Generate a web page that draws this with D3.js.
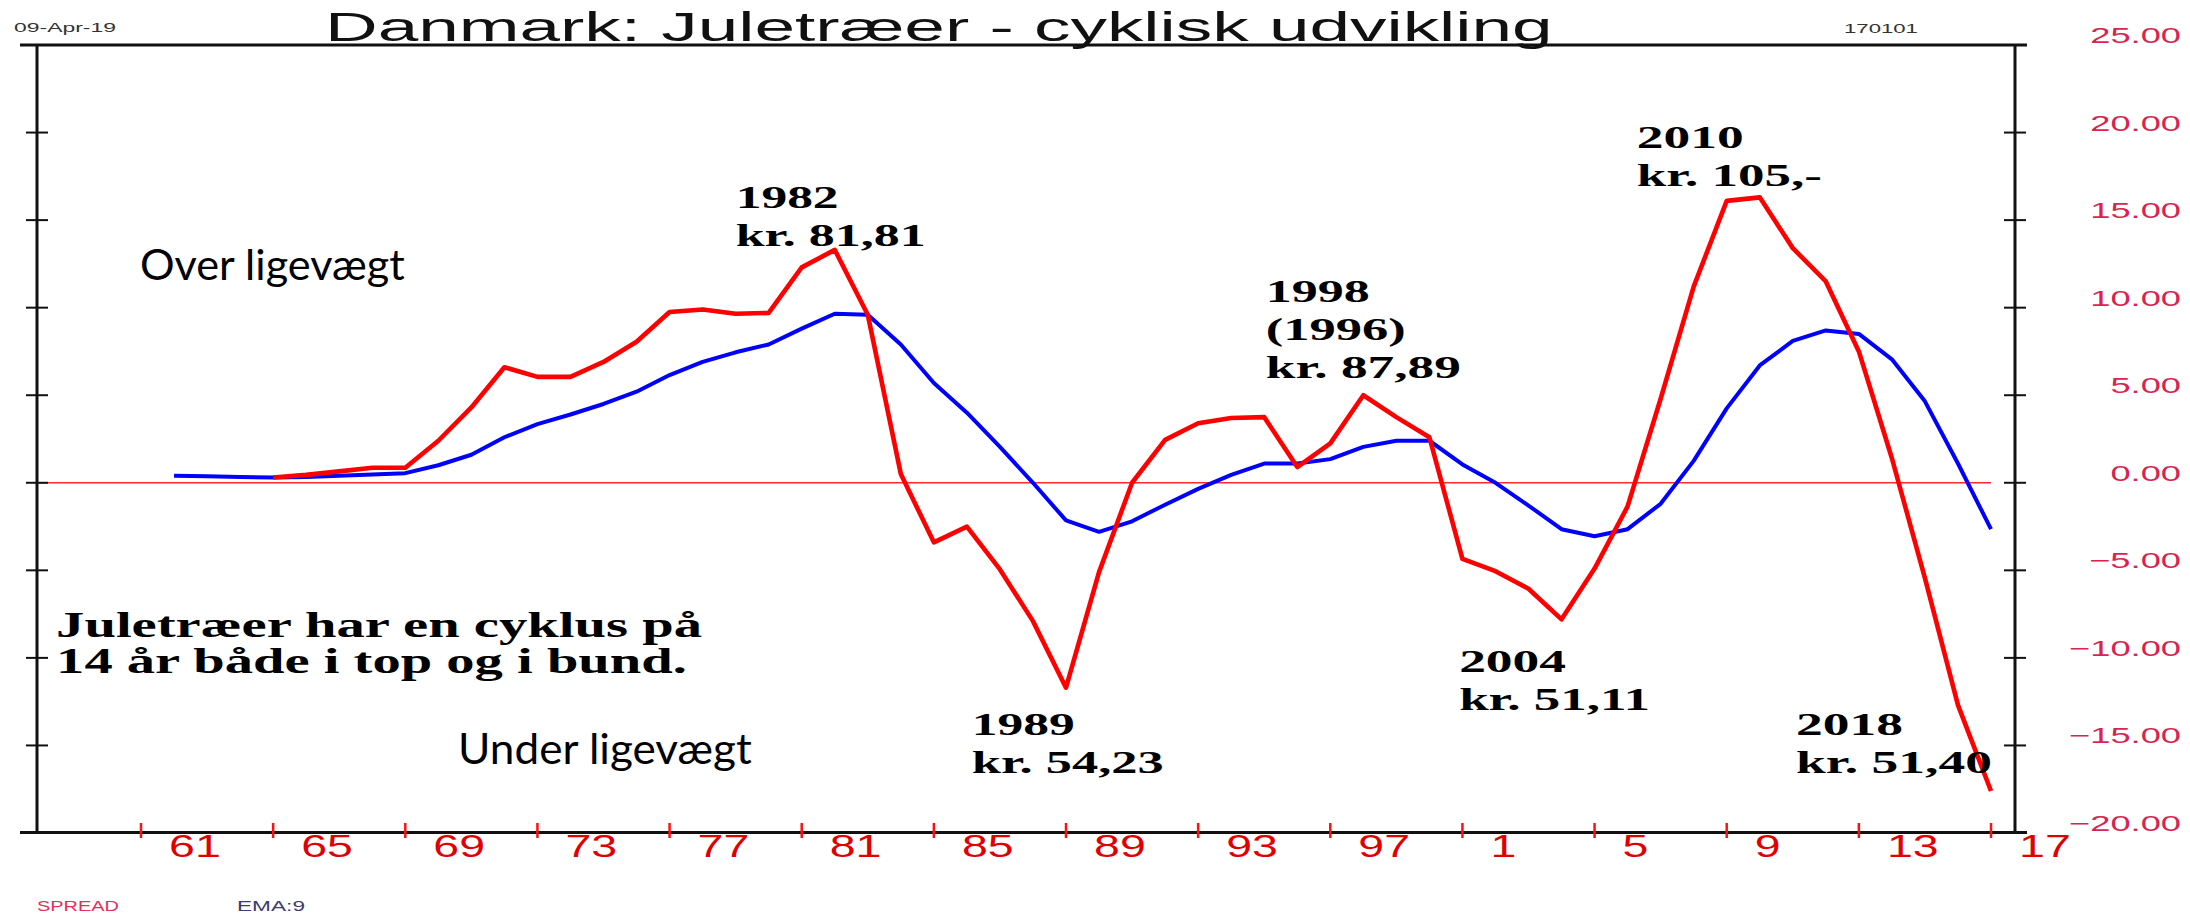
<!DOCTYPE html>
<html>
<head>
<meta charset="utf-8">
<script src="https://cdn.jsdelivr.net/npm/d3@7"></script>
<style>
html, body { margin: 0; padding: 0; background: #fff; overflow: hidden; }
.sans { font-family: "Liberation Sans", Arial, sans-serif; }
.serif { font-family: "Liberation Serif", "Times New Roman", serif; font-weight: bold; }
.calib { font-family: Lato, "Open Sans", sans-serif; }
</style>
</head>
<body>
<svg id="chart"></svg>
<script>
// SPREAD (red) series, one point per year
const spreadYears = d3.range(1964, 2017);
const spreadValues = [
    0.3, 0.45, 0.65, 0.86, 0.86, 2.4, 4.3, 6.6, 6.05, 6.05,
    6.9, 8.05, 9.75, 9.9, 9.65, 9.7, 12.3, 13.3, 9.6, 0.5,
    -3.4, -2.5, -4.95, -7.9, -11.7, -5.1, 0.0, 2.45, 3.4, 3.7,
    3.75, 0.9, 2.25, 5.0, 3.75, 2.6, -4.35, -5.05, -6.05, -7.8,
    -4.9, -1.35, 4.8, 11.2, 16.1, 16.3, 13.4, 11.5, 7.5, 1.4,
    -5.45, -12.7, -17.6
];

// EMA:9 (blue) series
const emaYears = d3.range(1961, 2017);
const emaValues = [
    0.4, 0.37, 0.33, 0.3, 0.33, 0.4, 0.47, 0.55, 1.0, 1.6,
    2.6, 3.35, 3.9, 4.5, 5.2, 6.15, 6.9, 7.45, 7.9, 8.8,
    9.65, 9.6, 7.9, 5.7, 4.0, 2.05, 0.0, -2.15, -2.8, -2.2,
    -1.25, -0.35, 0.45, 1.1, 1.1, 1.35, 2.05, 2.4, 2.4, 1.05,
    0.0, -1.3, -2.65, -3.05, -2.65, -1.2, 1.25, 4.25, 6.7, 8.1,
    8.7, 8.5, 7.05, 4.65, 1.1, -2.65
];

const xTickYears = d3.range(1960, 2017, 4);
const xLabelYears = d3.range(1961, 2018, 4);
const xLabels = ["61", "65", "69", "73", "77", "81", "85", "89", "93", "97", "1", "5", "9", "13", "17"];
const yTicks = [25, 20, 15, 10, 5, 0, -5, -10, -15, -20];

const title = "Danmark: Juletræer - cyklisk udvikling";
const dateLabel = "09-Apr-19";
const codeLabel = "170101";
const legendLabels = ["SPREAD", "EMA:9"];

// annotation texts with the year / value they sit at
const notes = [
    { lines: ["1982", "kr. 81,81"], year: 1978.0, value: 15.7, widths: [103, 190] },
    { lines: ["1998", "(1996)", "kr. 87,89"], year: 1994.05, value: 10.3, widths: [104, 140, 195] },
    { lines: ["1989", "kr. 54,23"], year: 1985.15, value: -14.4, widths: [103, 192] },
    { lines: ["2004", "kr. 51,11"], year: 1999.9, value: -10.8, widths: [107, 191] },
    { lines: ["2010", "kr. 105,-"], year: 2005.28, value: 19.1, widths: [107, 185] },
    { lines: ["2018", "kr. 51,40"], year: 2010.1, value: -14.4, widths: [107, 196] }
];
const cycleNote = ["Juletræer har en cyklus på", "14 år både i top og i bund."];
const overLabel = "Over ligevægt";
const underLabel = "Under ligevægt";

const width = 2190;
const height = 913;
const axisLeftX = 37;
const axisRightX = 2015;

const svg = d3.select("#chart").attr("width", width).attr("height", height);

const x = d3.scaleLinear().domain([1960, 2016]).range([141, 1991]);
const y = d3.scaleLinear().domain([-20, 25]).range([833, 45]);

function fitText(cls, str, px, py, w, size, fill) {
    const t = svg.append("text")
        .attr("class", cls)
        .style("font-size", size + "px")
        .attr("fill", fill || "#000")
        .text(str);
    const natural = t.node().getComputedTextLength();
    t.attr("transform", `translate(${px},${py}) scale(${w / natural},1)`);
    return t;
}

// zero line
svg.append("line")
    .attr("x1", axisLeftX).attr("x2", x(2016))
    .attr("y1", y(0)).attr("y2", y(0))
    .attr("stroke", "#ff2a2a").attr("stroke-width", 1.6);

// frame
const frame = svg.append("g").attr("stroke", "#111").attr("stroke-width", 3);
frame.append("line").attr("x1", 20).attr("x2", 2027).attr("y1", y(25)).attr("y2", y(25));
frame.append("line").attr("x1", 20).attr("x2", 2027).attr("y1", y(-20) - 0.5).attr("y2", y(-20) - 0.5);
frame.append("line").attr("x1", axisLeftX).attr("x2", axisLeftX).attr("y1", y(25)).attr("y2", y(-20));
frame.append("line").attr("x1", axisRightX).attr("x2", axisRightX).attr("y1", y(25)).attr("y2", y(-20));

// y ticks on both axes
const innerTicks = yTicks.filter(v => v < 25 && v > -20);
[axisLeftX, axisRightX].forEach(ax => {
    svg.append("g").selectAll("line")
        .data(innerTicks)
        .enter()
        .append("line")
        .attr("x1", ax - 11).attr("x2", ax + 11)
        .attr("y1", d => y(d)).attr("y2", d => y(d))
        .attr("stroke", "#111").attr("stroke-width", 2);
});

// right axis labels
const fmt = d3.format(".2f");
yTicks.forEach(v => {
    svg.append("text")
        .attr("class", "sans")
        .style("font-size", "22px")
        .attr("fill", "#d8244f")
        .attr("text-anchor", "end")
        .attr("transform", `translate(2181,${y(v) - 2}) scale(1.65,1)`)
        .text(fmt(v));
});

// x ticks
svg.append("g").selectAll("line")
    .data(xTickYears)
    .enter()
    .append("line")
    .attr("x1", d => x(d)).attr("x2", d => x(d))
    .attr("y1", 823).attr("y2", 838)
    .attr("stroke", "#ff1010").attr("stroke-width", 2.5);

// x labels
xLabels.forEach((lab, i) => {
    svg.append("text")
        .attr("class", "sans")
        .style("font-size", "31px")
        .attr("fill", "#e00000")
        .attr("transform", `translate(${x(xLabelYears[i]) - 5},857) scale(1.5,1)`)
        .text(lab);
});

// series
const line = d3.line().x(d => x(d[0])).y(d => y(d[1]));

svg.append("path")
    .datum(emaYears.map((yr, i) => [yr, emaValues[i]]))
    .attr("fill", "none")
    .attr("stroke", "#0000ff")
    .attr("stroke-width", 4)
    .attr("stroke-linejoin", "round")
    .attr("d", line);

svg.append("path")
    .datum(spreadYears.map((yr, i) => [yr, spreadValues[i]]))
    .attr("fill", "none")
    .attr("stroke", "#ff0000")
    .attr("stroke-width", 4.6)
    .attr("stroke-linejoin", "round")
    .attr("d", line);

// title and small labels
fitText("sans", title, 325, 41, 1228, 40, "#111");
fitText("sans", dateLabel, 14, 32, 102, 12, "#333");
fitText("sans", codeLabel, 1844, 33, 74, 12, "#333");
fitText("sans", legendLabels[0], 37, 911, 82, 14, "#e0305a");
fitText("sans", legendLabels[1], 237, 911, 68, 14, "#3c3c6e");

// annotations
notes.forEach(n => {
    n.lines.forEach((str, i) => {
        fitText("serif", str, x(n.year), y(n.value) + i * 38, n.widths[i], 32);
    });
});
fitText("serif", cycleNote[0], x(1957.43), y(-8.8), 646, 36);
fitText("serif", cycleNote[1], x(1957.43), y(-8.8) + 36, 631, 36);

fitText("calib", overLabel, 140, 280, 265, 43);
fitText("calib", underLabel, 458, 764, 294, 43);
</script>
</body>
</html>
